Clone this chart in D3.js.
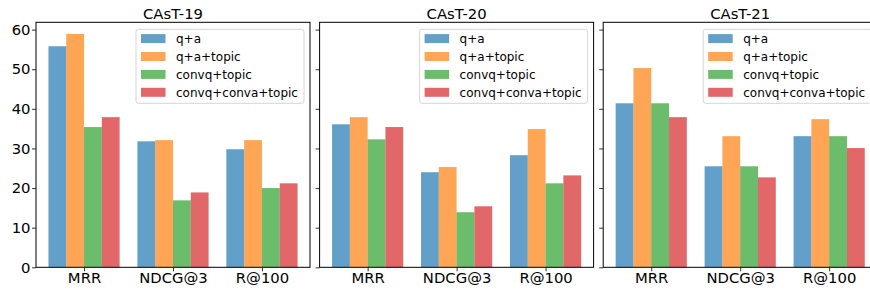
<!DOCTYPE html>
<html>
<head>
<meta charset="utf-8">
<script src="https://d3js.org/d3.v7.min.js"></script>
<style>
  body { margin: 0; background: #fff; }
  text { font-family: "DejaVu Sans", sans-serif; fill: #000; }
</style>
</head>
<body>
<div id="chartHere"></div>
<script>
// values
var panelTitles = ['CAsT-19', 'CAsT-20', 'CAsT-21'];
var metrics = ['MRR', 'NDCG@3', 'R@100'];
var seriesNames = ['q+a', 'q+a+topic', 'convq+topic', 'convq+conva+topic'];
var seriesColors = ['#1f77b4', '#ff7f0e', '#2ca02c', '#d62728'];
var yTicks = [0, 10, 20, 30, 40, 50, 60];

// one row per series, one value per metric
var cast19 = [
  [55.8, 31.8, 29.8],
  [58.9, 32.1, 32.1],
  [35.4, 16.9, 20.0],
  [37.9, 18.9, 21.2]
];
var cast20 = [
  [36.1, 24.0, 28.3],
  [37.9, 25.3, 34.9],
  [32.3, 13.9, 21.2],
  [35.4, 15.4, 23.2]
];
var cast21 = [
  [41.4, 25.5, 33.1],
  [50.3, 33.1, 37.4],
  [41.4, 25.5, 33.1],
  [37.9, 22.7, 30.1]
];
var panelValues = [cast19, cast20, cast21];

function render() {
  var dims = { width: 870, height: 292 };
  var margin = { top: 22.3, left: 36 };
  var panelW = 274, panelStep = 283.6, plotBottom = 267.3;
  var bigFont = '14.8px';

  var svg = d3.select('#chartHere').append('svg')
    .attr('width', dims.width)
    .attr('height', dims.height);

  var maxVal = d3.max(panelValues, function (p) { return d3.max(p, function (s) { return d3.max(s); }); });
  var yScale = d3.scaleLinear()
    .domain([0, maxVal * 1.05])
    .range([plotBottom, margin.top]);

  var inner = d3.scaleBand().domain(seriesNames).range([-0.4, 0.4]);

  panelValues.forEach(function (vals, p) {
    var left = margin.left + p * panelStep;
    var xScale = d3.scaleLinear().domain([-0.54, 2.54]).range([left, left + panelW]);
    var g = svg.append('g');

    // bars
    vals.forEach(function (row, s) {
      g.selectAll('rect.s' + s)
        .data(row)
        .enter().append('rect')
        .attr('x', function (d, i) { return xScale(i + inner(seriesNames[s])); })
        .attr('width', xScale(inner.bandwidth()) - xScale(0))
        .attr('y', function (d) { return yScale(d); })
        .attr('height', function (d) { return plotBottom - yScale(d); })
        .attr('fill', seriesColors[s])
        .attr('fill-opacity', 0.7);
    });

    // y axis
    var yAxis = d3.axisLeft(yScale).tickValues(yTicks).tickSize(4).tickPadding(1.5);
    if (p > 0) yAxis.tickFormat('');
    var ya = g.append('g').attr('transform', 'translate(' + left + ',0)').call(yAxis);
    ya.selectAll('text').style('font-size', bigFont);

    // x axis
    var xAxis = d3.axisBottom(xScale).tickValues([0, 1, 2])
      .tickFormat(function (d) { return metrics[d]; }).tickSize(4).tickPadding(1.5);
    var xa = g.append('g').attr('transform', 'translate(0,' + plotBottom + ')').call(xAxis);
    xa.selectAll('text').style('font-size', bigFont);

    svg.selectAll('.domain').attr('stroke', 'none');
    svg.selectAll('.tick line').attr('stroke', '#000').attr('stroke-width', 0.8);

    // frame
    g.append('rect')
      .attr('x', left).attr('y', margin.top)
      .attr('width', panelW).attr('height', plotBottom - margin.top)
      .attr('fill', 'none').attr('stroke', '#000').attr('stroke-width', 1);

    // title
    g.append('text')
      .attr('x', left + panelW / 2).attr('y', 18.5)
      .attr('text-anchor', 'middle')
      .style('font-size', bigFont)
      .text(panelTitles[p]);

    // legend
    var lgW = 168, lgH = 74;
    var lg = g.append('g').attr('transform', 'translate(' + (left + panelW - 6 - lgW) + ',' + (margin.top + 7) + ')');
    lg.append('rect')
      .attr('width', lgW).attr('height', lgH).attr('rx', 2.5)
      .attr('fill', '#fff').attr('fill-opacity', 0.8)
      .attr('stroke', '#d5d5d5').attr('stroke-width', 1);
    seriesNames.forEach(function (name, s) {
      var cy = 9.3 + s * 17.9;
      lg.append('rect')
        .attr('x', 5).attr('y', cy - 4.5).attr('width', 24.5).attr('height', 9)
        .attr('fill', seriesColors[s]).attr('fill-opacity', 0.7);
      lg.append('text')
        .attr('x', 40).attr('y', cy + 4.3)
        .style('font-size', '12px')
        .text(name);
    });
  });
}
render();
</script>
</body>
</html>
